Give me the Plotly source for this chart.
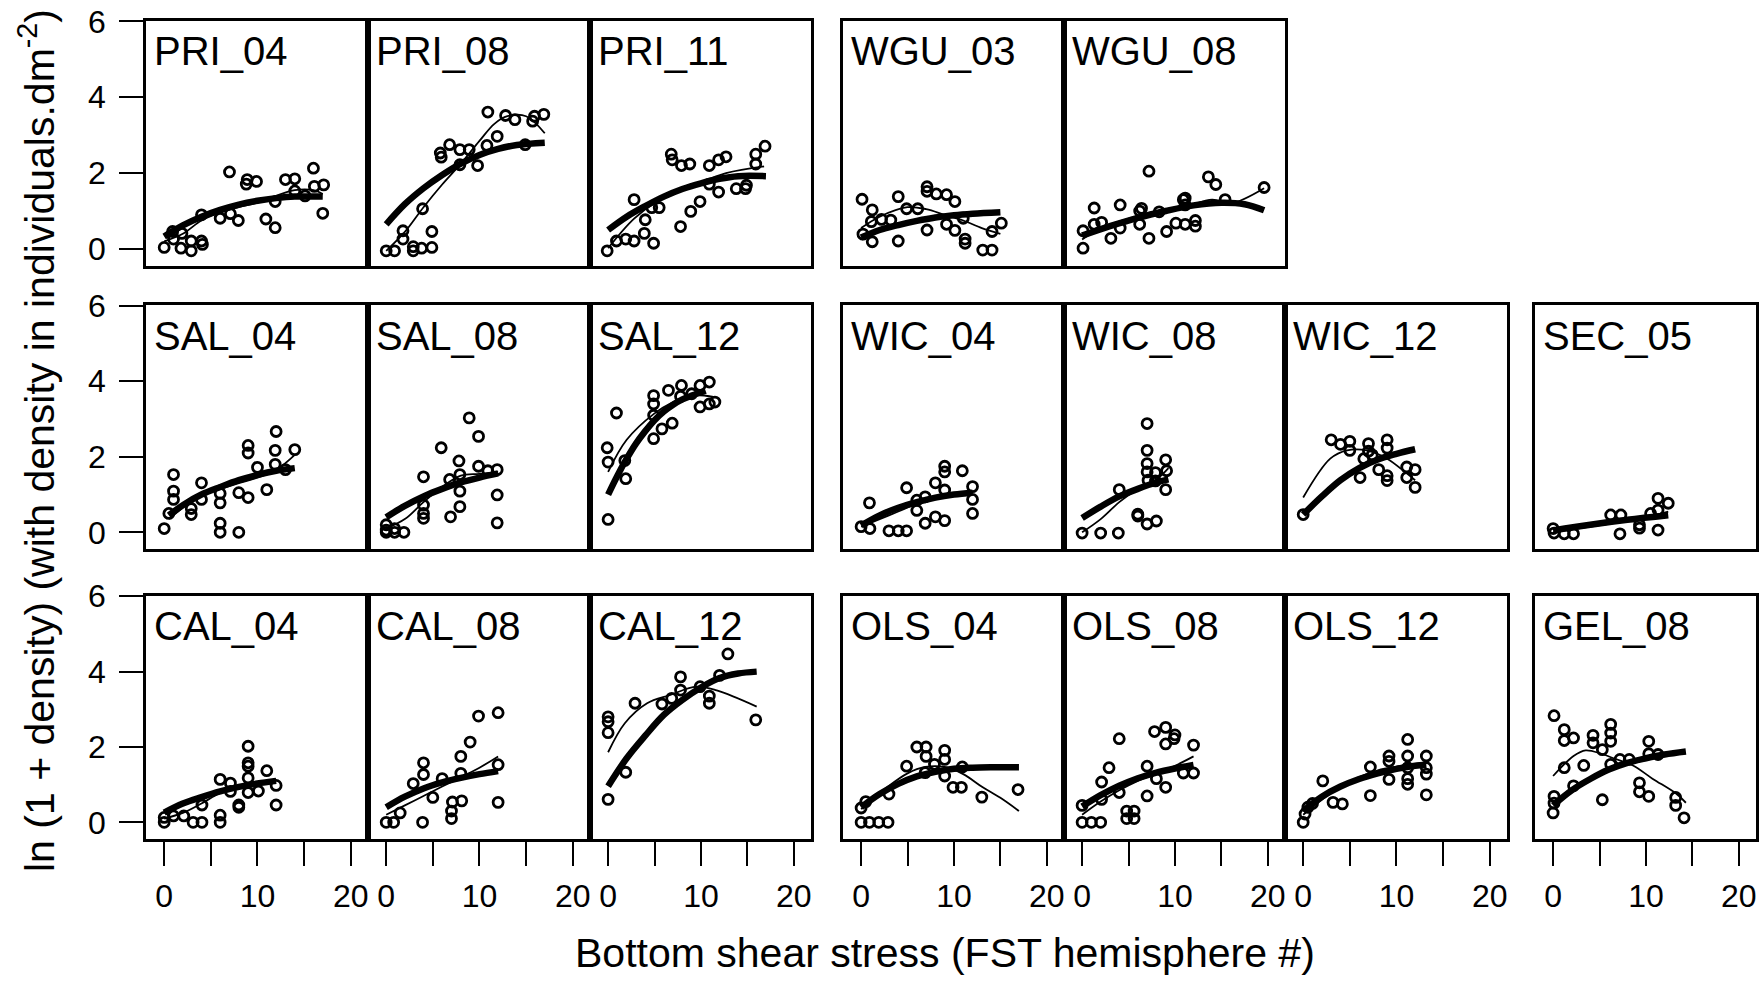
import plotly.graph_objects as go

# ---------------- data ----------------
# Row 1
pri04_x = [0, 1.0, 1.9, 1.8, 2.9, 2.9, 4.0, 4.1, 0.9, 4.0, 6.0, 7.1, 7.95, 7.0, 8.8, 8.9, 9.9, 10.9, 11.9, 11.9, 13.0, 14.0, 14.0, 15.1, 16.0, 16.1, 17.1, 17.0]
pri04_y = [0.04, 0.26, 0.41, 0.02, -0.05, 0.21, 0.21, 0.12, 0.46, 0.9, 0.81, 0.93, 0.75, 2.03, 1.71, 1.83, 1.78, 0.79, 0.56, 1.25, 1.83, 1.85, 1.53, 1.40, 2.13, 1.65, 1.69, 0.94]
pri04_thick_x = [0, 2, 4, 6, 8, 10, 12, 14, 17]
pri04_thick_y = [0.33, 0.62, 0.85, 1.03, 1.17, 1.27, 1.34, 1.38, 1.38]
pri04_thin_x = [0, 2, 4, 6, 8, 10, 12, 14, 16, 17]
pri04_thin_y = [0.2, 0.4, 0.75, 0.95, 1.1, 1.22, 1.4, 1.55, 1.55, 1.45]

pri08_x = [0, 0.9, 1.8, 1.8, 2.9, 2.9, 3.8, 4.9, 4.9, 3.9, 5.8, 5.9, 6.8, 7.9, 8.9, 7.9, 9.8, 10.8, 11.9, 10.9, 12.8, 13.8, 15.9, 16.9, 15.7, 14.9]
pri08_y = [-0.05, -0.05, 0.48, 0.26, -0.05, 0.06, 0.02, 0.04, 0.46, 1.06, 2.53, 2.42, 2.75, 2.62, 2.62, 2.22, 2.2, 2.73, 2.97, 3.61, 3.52, 3.41, 3.5, 3.55, 3.37, 2.75]
pri08_thick_x = [0, 2, 4, 6, 8, 10, 12, 14, 17]
pri08_thick_y = [0.65, 1.18, 1.6, 1.95, 2.25, 2.48, 2.64, 2.74, 2.8]
pri08_thin_x = [0, 2, 4, 6, 8, 10, 11.6, 13, 15, 17]
pri08_thin_y = [-0.05, 0.45, 1.1, 1.7, 2.25, 2.85, 3.3, 3.5, 3.5, 3.05]

pri11_x = [-0.1, 0.9, 1.9, 2.8, 3.9, 4.9, 2.8, 4.0, 4.7, 5.5, 7.8, 8.9, 9.9, 6.8, 6.9, 7.9, 8.8, 10.9, 11.9, 12.7, 10.9, 11.9, 13.8, 14.8, 14.9, 15.9, 15.9, 16.9]
pri11_y = [-0.05, 0.21, 0.26, 0.21, 0.41, 0.15, 1.3, 0.77, 1.09, 1.09, 0.59, 0.99, 1.25, 2.5, 2.35, 2.2, 2.24, 2.2, 2.35, 2.43, 1.71, 1.5, 1.59, 1.59, 1.68, 2.24, 2.5, 2.71]
pri11_thick_x = [0, 2, 4, 6, 8, 10, 12, 14, 17]
pri11_thick_y = [0.5, 0.85, 1.13, 1.38, 1.58, 1.73, 1.85, 1.92, 1.92]
pri11_thin_x = [0, 2.8, 5.3, 9.4, 12.7, 16.8]
pri11_thin_y = [0.02, 0.8, 1.25, 1.69, 2.0, 2.18]

wgu03_x = [0.1, 1.2, 1.1, 2.2, 3.2, 0.2, 1.2, 4.0, 4.9, 6.1, 7.1, 7.1, 8.1, 9.2, 10.1, 4.0, 7.1, 9.2, 10.1, 11.0, 11.2, 11.2, 13.1, 14.1, 14.1, 15.1]
wgu03_y = [1.31, 1.03, 0.72, 0.78, 0.76, 0.39, 0.19, 1.38, 1.06, 1.06, 1.64, 1.52, 1.45, 1.43, 1.25, 0.21, 0.5, 0.65, 0.49, 0.81, 0.26, 0.15, -0.03, -0.03, 0.46, 0.68]
wgu03_thick_x = [0, 2, 4, 6, 8, 10, 12, 15]
wgu03_thick_y = [0.3, 0.5, 0.63, 0.74, 0.83, 0.89, 0.93, 0.97]
wgu03_thin_x = [0, 2, 5, 7, 9, 11, 13, 15]
wgu03_thin_y = [0.55, 0.85, 1.1, 1.05, 0.9, 0.75, 0.55, 0.4]

wgu08_x = [0.1, 0.1, 1.3, 2.1, 3.1, 1.3, 4.1, 4.1, 6.2, 6.2, 7.2, 7.2, 9.1, 10.1, 11.1, 11.1, 11.1, 13.6, 14.4, 12.2, 12.2, 15.4, 19.6, 10.9, 6.4, 8.3]
wgu08_y = [0.02, 0.48, 0.65, 0.7, 0.28, 1.08, 1.16, 0.55, 1.0, 0.65, 2.05, 0.28, 0.46, 0.68, 1.34, 1.16, 0.65, 1.9, 1.7, 0.75, 0.6, 1.3, 1.62, 1.3, 1.07, 0.98]
wgu08_thick_x = [0, 3, 6, 9, 12, 15, 17.5, 19.6]
wgu08_thick_y = [0.35, 0.6, 0.82, 1.0, 1.15, 1.22, 1.18, 1.02]
wgu08_thin_x = [0, 2, 5, 8, 11, 14, 16, 19.6]
wgu08_thin_y = [0.25, 0.55, 0.8, 1.0, 1.1, 1.3, 1.2, 1.6]

# Row 2
sal04_x = [1.0, 1.0, 1.0, 2.9, 4.0, 4.0, 6.0, 6.0, 8.0, 9.0, 9.0, 9.0, 10.0, 11.0, 11.9, 11.9, 12.0, 13.0, 14.0, 0, 6.0, 6.0, 8.0, 2.9, 0.5]
sal04_y = [1.53, 1.09, 0.87, 0.63, 1.31, 0.87, 1.03, 0.78, 1.05, 0.92, 2.3, 2.1, 1.72, 1.13, 1.8, 2.17, 2.67, 1.66, 2.19, 0.1, 0.24, 0.0, 0.0, 0.47, 0.5]
sal04_thick_x = [0.5, 2, 4, 6, 8, 10, 12, 14]
sal04_thick_y = [0.45, 0.72, 1.0, 1.2, 1.38, 1.52, 1.63, 1.7]
sal04_thin_x = [0.5, 2, 4, 6, 8, 10, 12, 14]
sal04_thin_y = [0.35, 0.65, 1.0, 1.15, 1.3, 1.45, 1.65, 2.05]

sal08_x = [4.0, 5.9, 6.8, 7.8, 7.9, 7.9, 7.9, 8.9, 9.9, 9.9, 10.9, 11.9, 11.9, 4.0, 4.0, 6.9, 4.0, 11.9, 0, 0.9, 0.9, 1.9, 0, 0]
sal08_y = [1.47, 2.24, 1.4, 1.89, 1.53, 1.09, 0.68, 3.03, 2.54, 1.75, 1.63, 1.66, 0.99, 0.72, 0.5, 0.41, 0.37, 0.25, 0.06, 0.1, 0.0, 0.0, 0.0, 0.2]
sal08_thick_x = [0, 2, 4, 6, 8, 10, 12]
sal08_thick_y = [0.4, 0.7, 0.95, 1.15, 1.32, 1.45, 1.56]
sal08_thin_x = [0, 2, 4, 6, 8, 10, 12]
sal08_thin_y = [0.1, 0.35, 0.8, 1.2, 1.5, 1.55, 1.6]

sal12_x = [0, 0.9, -0.1, 0, 1.9, 1.8, 4.9, 4.9, 4.9, 4.9, 5.8, 6.9, 6.5, 7.9, 7.8, 9.0, 9.9, 10.9, 9.9, 10.9, 11.5]
sal12_y = [0.34, 3.16, 2.24, 1.86, 1.42, 1.9, 3.62, 3.4, 3.1, 2.48, 2.74, 2.89, 3.76, 3.89, 3.6, 3.67, 3.89, 3.98, 3.32, 3.4, 3.45]
sal12_thick_x = [0, 1, 2, 3, 4, 5, 6, 7, 8, 9, 10.5]
sal12_thick_y = [1.0, 1.5, 1.95, 2.35, 2.68, 2.97, 3.2, 3.38, 3.52, 3.62, 3.75]
sal12_thin_x = [0, 2, 5, 7, 9, 11.5]
sal12_thin_y = [1.6, 2.45, 3.15, 3.45, 3.63, 3.58]

wic04_x = [0.9, 4.9, 6.0, 6.9, 8.0, 9.0, 9.0, 9.0, 10.9, 12.0, 12.0, 12.0, 8.0, 0, 0.95, 3.0, 4.0, 4.9, 6.9, 9.0, 6.0]
wic04_y = [0.78, 1.18, 0.85, 0.94, 1.31, 1.12, 1.75, 1.6, 1.63, 1.21, 0.87, 0.5, 0.41, 0.15, 0.1, 0.04, 0.04, 0.04, 0.24, 0.31, 0.58]
wic04_thick_x = [0, 2, 4, 6, 8, 10, 12]
wic04_thick_y = [0.18, 0.45, 0.65, 0.8, 0.92, 1.0, 1.05]
wic04_thin_x = [0, 2, 4, 6, 8, 10, 12]
wic04_thin_y = [0.15, 0.35, 0.55, 0.75, 0.9, 1.0, 1.1]

wic08_x = [4.0, 7.0, 7.0, 7.0, 7.0, 7.9, 9.0, 9.1, 9.0, 7.1, 7.9, 6.0, 0, 2.0, 3.9, 6.0, 7.0, 8.0]
wic08_y = [1.13, 2.88, 2.17, 1.82, 1.6, 1.58, 1.92, 1.63, 1.13, 1.38, 1.36, 0.48, -0.02, -0.02, -0.02, 0.43, 0.22, 0.3]
wic08_thick_x = [0, 2, 4, 6, 8, 9.3]
wic08_thick_y = [0.38, 0.68, 0.95, 1.15, 1.32, 1.4]
wic08_thin_x = [0, 2, 4, 6, 8, 9.3]
wic08_thin_y = [0.0, 0.35, 0.8, 1.15, 1.4, 1.7]

wic12_x = [0, 3.0, 4.0, 5.0, 5.0, 7.0, 7.0, 9.0, 9.0, 6.1, 8.1, 9.0, 9.0, 11.1, 12.0, 11.1, 12.0, 6.5, 7.4]
wic12_y = [0.47, 2.45, 2.33, 2.41, 2.17, 2.35, 2.15, 2.45, 2.23, 1.45, 1.66, 1.5, 1.37, 1.73, 1.66, 1.45, 1.19, 1.95, 2.05]
wic12_thick_x = [0, 2, 4, 6, 8, 10, 12]
wic12_thick_y = [0.47, 0.95, 1.38, 1.7, 1.93, 2.08, 2.2]
wic12_thin_x = [0, 2.9, 4.7, 6.8, 9, 11.1, 12]
wic12_thin_y = [0.92, 1.95, 2.17, 2.17, 1.95, 1.56, 1.38]

sec05_x = [0.1, 1.2, 2.2, 0, 6.2, 7.3, 7.2, 9.3, 9.3, 11.3, 10.5, 11.3, 12.4, 11.3]
sec05_y = [-0.02, -0.04, -0.04, 0.1, 0.46, 0.46, -0.04, 0.11, 0.2, 0.06, 0.5, 0.9, 0.77, 0.59]
sec05_thick_x = [0, 4, 8, 12.4]
sec05_thick_y = [0.05, 0.2, 0.33, 0.45]
sec05_thin_x = [0, 4, 8, 12.4]
sec05_thin_y = [0.0, 0.15, 0.3, 0.55]

# Row 3
cal04_x = [0, 0, 1.0, 2.1, 3.1, 4.05, 4.05, 6.0, 6.0, 6.0, 7.1, 7.1, 8.0, 8.0, 9.0, 9.0, 9.0, 9.0, 9.0, 10.1, 11.0, 12.0, 12.0]
cal04_y = [0, 0.13, 0.17, 0.17, 0, 0, 0.46, 0, 0.19, 1.14, 1.04, 0.82, 0.46, 0.4, 2.02, 1.58, 1.49, 1.18, 0.79, 0.83, 1.37, 0.98, 0.46]
cal04_thick_x = [0, 2, 4, 6, 8, 10, 12]
cal04_thick_y = [0.26, 0.5, 0.67, 0.82, 0.94, 1.03, 1.1]
cal04_thin_x = [0, 2, 4, 6, 8, 10, 12]
cal04_thin_y = [0.1, 0.25, 0.5, 0.78, 0.95, 1.05, 1.15]

cal08_x = [4.0, 4.0, 2.9, 5.0, 6.0, 7.1, 8.1, 8.0, 8.0, 9.0, 9.9, 12.0, 12.0, 12.0, 0, 0.8, 1.5, 3.9, 7.0, 7.0]
cal08_y = [1.58, 1.27, 1.03, 0.66, 1.16, 0.54, 0.57, 1.75, 1.3, 2.13, 2.82, 2.91, 1.53, 0.53, 0, 0, 0.25, 0, 0.1, 0.3]
cal08_thick_x = [0, 2, 4, 6, 8, 10, 12]
cal08_thick_y = [0.4, 0.68, 0.9, 1.06, 1.18, 1.28, 1.36]
cal08_thin_x = [0, 2, 4, 6, 8, 10, 12]
cal08_thin_y = [0.2, 0.45, 0.7, 0.95, 1.2, 1.45, 1.75]

cal12_x = [0, 0, 0, 0, 1.9, 2.9, 5.8, 6.85, 7.8, 7.8, 10.9, 10.9, 12.9, 15.9, 9.9, 12.0]
cal12_y = [0.61, 2.38, 2.67, 2.8, 1.33, 3.16, 3.14, 3.29, 3.51, 3.86, 3.35, 3.16, 4.47, 2.72, 3.6, 3.9]
cal12_thick_x = [0, 2, 4, 6, 8, 10, 12, 14, 16]
cal12_thick_y = [0.96, 1.7, 2.3, 2.85, 3.25, 3.58, 3.83, 3.95, 4.0]
cal12_thin_x = [0, 1.8, 4.2, 6.7, 9.5, 11.7, 16]
cal12_thin_y = [1.86, 2.63, 3.16, 3.38, 3.6, 3.5, 3.07]

ols04_x = [6.0, 7.0, 7.0, 9.0, 9.0, 4.9, 7.9, 6.9, 10.9, 9.0, 9.9, 10.8, 13.0, 16.9, 3.0, 0, 0.9, 1.9, 2.9, 0, 0.5]
ols04_y = [2.0, 2.0, 1.75, 1.91, 1.67, 1.49, 1.54, 1.32, 1.47, 1.23, 0.93, 0.93, 0.67, 0.87, 0.75, 0, 0, 0, 0, 0.38, 0.55]
ols04_thick_x = [0, 2, 4, 6, 8, 10, 12, 14, 17]
ols04_thick_y = [0.4, 0.75, 1.02, 1.22, 1.34, 1.42, 1.45, 1.46, 1.46]
ols04_thin_x = [0, 2.8, 5, 6.9, 9, 11, 13.1, 15, 17]
ols04_thin_y = [0.35, 0.93, 1.3, 1.47, 1.47, 1.28, 0.93, 0.65, 0.3]

ols08_x = [4.0, 7.8, 9.0, 9.0, 9.9, 10.0, 12.0, 2.9, 2.1, 7.0, 8.0, 9.0, 7.0, 4.0, 2.1, 10.9, 12.0, 0, 1.0, 2.0, 0, 4.8, 4.8, 5.6, 5.6]
ols08_y = [2.22, 2.41, 2.52, 2.08, 2.22, 2.32, 2.05, 1.45, 1.07, 1.49, 1.16, 0.93, 0.7, 0.79, 0.61, 1.31, 1.31, 0, 0, 0, 0.45, 0.1, 0.3, 0.1, 0.3]
ols08_thick_x = [0, 2, 4, 6, 8, 10, 12]
ols08_thick_y = [0.42, 0.72, 0.97, 1.17, 1.32, 1.43, 1.52]
ols08_thin_x = [0, 2, 4, 6, 8, 10, 12]
ols08_thin_y = [0.2, 0.55, 0.85, 1.1, 1.3, 1.5, 1.75]

ols12_x = [2.1, 3.2, 4.2, 7.2, 7.2, 9.2, 9.2, 9.2, 11.2, 11.2, 11.2, 11.2, 11.2, 13.2, 13.2, 13.2, 13.2, 0, 0.2, 0.5, 1.0]
ols12_y = [1.1, 0.53, 0.49, 1.47, 0.71, 1.76, 1.62, 1.14, 2.2, 1.76, 1.45, 1.16, 1.01, 1.76, 1.45, 1.28, 0.73, 0, 0.22, 0.4, 0.5]
ols12_thick_x = [0, 2, 4, 6, 8, 10, 12, 13.2]
ols12_thick_y = [0.3, 0.68, 0.95, 1.15, 1.3, 1.42, 1.5, 1.53]
ols12_thin_x = [0, 2, 4, 6, 8, 10, 12, 13.2]
ols12_thin_y = [0.2, 0.6, 0.95, 1.2, 1.38, 1.48, 1.55, 1.6]

gel08_x = [0.1, 1.2, 1.2, 2.2, 4.3, 4.3, 5.3, 6.2, 6.2, 6.2, 10.3, 10.3, 7.2, 8.2, 6.2, 11.3, 1.2, 3.3, 2.2, 9.3, 9.3, 10.3, 5.3, 13.2, 0.1, 0.1, 0, 13.2, 14.1]
gel08_y = [2.83, 2.46, 2.17, 2.24, 2.31, 2.11, 1.93, 2.6, 2.37, 2.15, 2.15, 1.82, 1.67, 1.67, 1.54, 1.8, 1.45, 1.51, 0.97, 1.05, 0.81, 0.69, 0.6, 0.66, 0.69, 0.51, 0.25, 0.45, 0.12]
gel08_thick_x = [0, 2, 4, 6, 8, 10, 12, 14.3]
gel08_thick_y = [0.45, 0.85, 1.15, 1.4, 1.58, 1.7, 1.8, 1.88]
gel08_thin_x = [0, 2.2, 3.5, 5.2, 6.5, 8.6, 10.7, 13.2, 14.3]
gel08_thin_y = [1.23, 1.76, 1.91, 1.82, 1.7, 1.51, 1.16, 0.77, 0.52]

x_tick_vals = [0, 10, 20]
x_tick_text = ["0", "10", "20"]
x_minor_tick_vals = [5, 15]
y_tick_vals = [0, 2, 4, 6]
y_tick_text = ["0", "2", "4", "6"]

# panel table: (label, row, col, points, thick fit, thin smoother)
panels = [
    ("PRI_04", 0, 0, pri04_x, pri04_y, pri04_thick_x, pri04_thick_y, pri04_thin_x, pri04_thin_y),
    ("PRI_08", 0, 1, pri08_x, pri08_y, pri08_thick_x, pri08_thick_y, pri08_thin_x, pri08_thin_y),
    ("PRI_11", 0, 2, pri11_x, pri11_y, pri11_thick_x, pri11_thick_y, pri11_thin_x, pri11_thin_y),
    ("WGU_03", 0, 3, wgu03_x, wgu03_y, wgu03_thick_x, wgu03_thick_y, wgu03_thin_x, wgu03_thin_y),
    ("WGU_08", 0, 4, wgu08_x, wgu08_y, wgu08_thick_x, wgu08_thick_y, wgu08_thin_x, wgu08_thin_y),
    ("SAL_04", 1, 0, sal04_x, sal04_y, sal04_thick_x, sal04_thick_y, sal04_thin_x, sal04_thin_y),
    ("SAL_08", 1, 1, sal08_x, sal08_y, sal08_thick_x, sal08_thick_y, sal08_thin_x, sal08_thin_y),
    ("SAL_12", 1, 2, sal12_x, sal12_y, sal12_thick_x, sal12_thick_y, sal12_thin_x, sal12_thin_y),
    ("WIC_04", 1, 3, wic04_x, wic04_y, wic04_thick_x, wic04_thick_y, wic04_thin_x, wic04_thin_y),
    ("WIC_08", 1, 4, wic08_x, wic08_y, wic08_thick_x, wic08_thick_y, wic08_thin_x, wic08_thin_y),
    ("WIC_12", 1, 5, wic12_x, wic12_y, wic12_thick_x, wic12_thick_y, wic12_thin_x, wic12_thin_y),
    ("SEC_05", 1, 6, sec05_x, sec05_y, sec05_thick_x, sec05_thick_y, sec05_thin_x, sec05_thin_y),
    ("CAL_04", 2, 0, cal04_x, cal04_y, cal04_thick_x, cal04_thick_y, cal04_thin_x, cal04_thin_y),
    ("CAL_08", 2, 1, cal08_x, cal08_y, cal08_thick_x, cal08_thick_y, cal08_thin_x, cal08_thin_y),
    ("CAL_12", 2, 2, cal12_x, cal12_y, cal12_thick_x, cal12_thick_y, cal12_thin_x, cal12_thin_y),
    ("OLS_04", 2, 3, ols04_x, ols04_y, ols04_thick_x, ols04_thick_y, ols04_thin_x, ols04_thin_y),
    ("OLS_08", 2, 4, ols08_x, ols08_y, ols08_thick_x, ols08_thick_y, ols08_thin_x, ols08_thin_y),
    ("OLS_12", 2, 5, ols12_x, ols12_y, ols12_thick_x, ols12_thick_y, ols12_thin_x, ols12_thin_y),
    ("GEL_08", 2, 6, gel08_x, gel08_y, gel08_thick_x, gel08_thick_y, gel08_thin_x, gel08_thin_y),
]

# ---------------- layout geometry ----------------
W, H = 1762, 981
col_px = [(146, 368), (368, 590), (590, 811), (843, 1064), (1064, 1285), (1285, 1507), (1535, 1756)]
row_px = [(20.7, 266), (305, 549.3), (595.5, 839.3)]
X_RANGE = [-1.95, 21.85]
Y_RANGE = [-0.45, 6.02]
FONT = "Liberation Sans, Arial, Helvetica, sans-serif"

fig = go.Figure()
layout = {}
annotations = []

for k, (label, r, c, px, py, tx, ty, sx, sy) in enumerate(panels, start=1):
    xa = "x" if k == 1 else f"x{k}"
    ya = "y" if k == 1 else f"y{k}"
    fig.add_trace(go.Scatter(x=px, y=py, mode="markers", xaxis=xa, yaxis=ya,
                             marker=dict(symbol="circle-open", size=10, color="black",
                                         line=dict(width=2.8, color="black")),
                             showlegend=False, hoverinfo="skip"))
    fig.add_trace(go.Scatter(x=tx, y=ty, mode="lines", xaxis=xa, yaxis=ya,
                             line=dict(color="black", width=6.5, shape="spline"),
                             showlegend=False, hoverinfo="skip"))
    fig.add_trace(go.Scatter(x=sx, y=sy, mode="lines", xaxis=xa, yaxis=ya,
                             line=dict(color="black", width=1.8, shape="spline"),
                             showlegend=False, hoverinfo="skip"))

    x0, x1 = col_px[c]
    y0, y1 = row_px[r]
    bottom_row = (r == 2)
    left_col = (c == 0)
    xkey = "xaxis" if k == 1 else f"xaxis{k}"
    ykey = "yaxis" if k == 1 else f"yaxis{k}"
    layout[xkey] = dict(domain=[x0 / W, x1 / W], range=X_RANGE, anchor=ya,
                        automargin=False,
                        showline=True, mirror=True, linecolor="black", linewidth=2.5,
                        showgrid=False, zeroline=False,
                        ticks="outside" if bottom_row else "", ticklen=24, tickwidth=2,
                        tickcolor="black",
                        tickmode="array", tickvals=x_tick_vals, ticktext=x_tick_text,
                        minor=dict(ticks="outside" if bottom_row else "", tickmode="array",
                                   tickvals=x_minor_tick_vals, ticklen=24, tickwidth=2,
                                   tickcolor="black", showgrid=False),
                        showticklabels=bottom_row, ticklabelstandoff=3,
                        tickfont=dict(family=FONT, size=32, color="black"),
                        fixedrange=True)
    layout[ykey] = dict(domain=[1 - y1 / H, 1 - y0 / H], range=Y_RANGE, anchor=xa,
                        automargin=False,
                        showline=True, mirror=True, linecolor="black", linewidth=2.5,
                        showgrid=False, zeroline=False,
                        ticks="outside" if left_col else "", ticklen=24, tickwidth=2,
                        tickcolor="black",
                        tickmode="array", tickvals=y_tick_vals, ticktext=y_tick_text,
                        showticklabels=left_col, ticklabelstandoff=7,
                        tickfont=dict(family=FONT, size=32, color="black"),
                        fixedrange=True)
    annotations.append(dict(text=label, xref=f"{xa} domain", yref=f"{ya} domain",
                            x=0.028, y=0.875, xanchor="left", yanchor="middle",
                            showarrow=False,
                            font=dict(family=FONT, size=40, color="black")))

annotations.append(dict(text="Bottom shear stress (FST hemisphere #)", xref="paper", yref="paper",
                        x=945 / W, y=1 - 953 / H, xanchor="center", yanchor="middle",
                        showarrow=False, font=dict(family=FONT, size=41, color="black")))
annotations.append(dict(text="ln (1 + density) (with density in individuals.dm<sup>-2</sup>)",
                        xref="paper", yref="paper", x=37 / W, y=1 - 441 / H,
                        xanchor="center", yanchor="middle", textangle=-90,
                        showarrow=False, font=dict(family=FONT, size=41, color="black")))

fig.update_layout(**layout)
fig.update_layout(width=W, height=H, autosize=False,
                  margin=dict(l=0, r=0, t=0, b=0, autoexpand=False),
                  paper_bgcolor="white", plot_bgcolor="white",
                  annotations=annotations, showlegend=False,
                  font=dict(family=FONT, color="black"))

fig.write_html("out.html", config={"displayModeBar": False},
               post_script="document.body.style.margin='0px';document.body.style.overflow='hidden';")
